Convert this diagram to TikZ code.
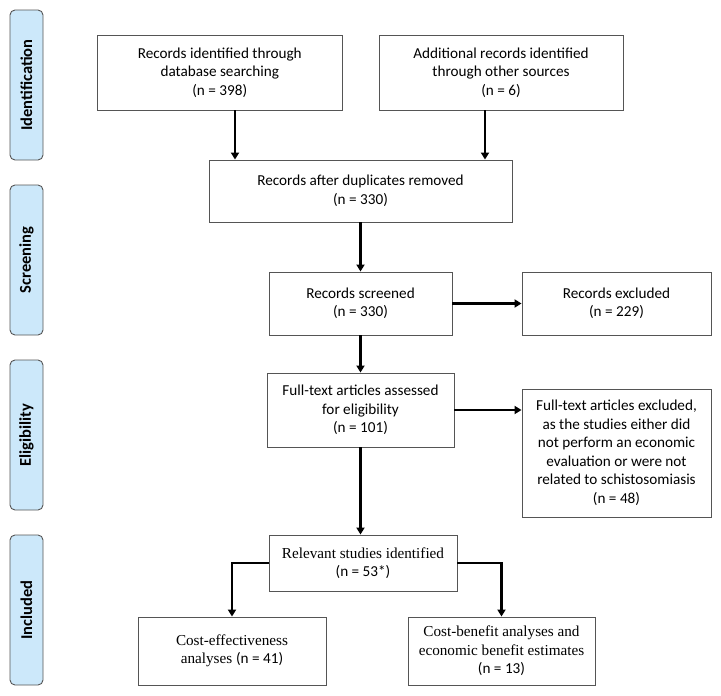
\documentclass[tikz,border=0pt]{standalone}
\usepackage{fontspec}
\setmainfont{Carlito}
\newfontfamily\tnr{Liberation Serif}
\usetikzlibrary{arrows.meta}
\definecolor{phase}{RGB}{204,232,250}
\definecolor{edge}{RGB}{85,85,85}

\begin{document}
\begin{tikzpicture}[x=1pt,y=-1pt,
  box/.style={draw=edge,line width=0.9pt,align=center,inner sep=0pt,font=\fontsize{15.2}{18.5}\selectfont},
  side/.style={draw=edge,line width=0.9pt,fill=phase,rounded corners=5pt,rotate=90,
    minimum width=150pt,minimum height=33pt,inner sep=0pt,font=\fontsize{16.5}{18}\selectfont\bfseries},
  arr/.style={line width=2.8pt,-{Triangle[length=7pt,width=8pt]}}]
\useasboundingbox (0,0) rectangle (721,696);
% phases
\node [side] (pid) at (26.5,85) {Identification};
\node [side] (psc) at (26.5,260) {Screening};
\node [side] (pel) at (26.5,435) {Eligibility};
\node [side] (pin) at (26.5,610) {Included};
% boxes
\node [box,minimum width=244.5pt,minimum height=75pt] (db) at (219.75,72.5) {Records identified through\\database searching\\(n = 398)};
\node [box,minimum width=244pt,minimum height=75pt] (other) at (501,72.5) {Additional records identified\\through other sources\\(n = 6)};
\node [box,minimum width=303pt,minimum height=62pt] (dup) at (360.5,191) {Records after duplicates removed\\(n = 330)};
\node [box,minimum width=183pt,minimum height=63pt] (scr) at (360.5,303.5) {Records screened\\(n = 330)};
\node [box,minimum width=189pt,minimum height=63pt] (exc) at (616.5,303.5) {Records excluded\\(n = 229)};
\node [box,minimum width=187pt,minimum height=74pt] (full) at (360.5,410) {Full-text articles assessed\\for eligibility\\(n = 101)};
\node [box,minimum width=189pt,minimum height=128pt] (fexc) at (616.5,453) {Full-text articles excluded,\\as the studies either did\\not perform an economic\\evaluation or were not\\related to schistosomiasis\\(n = 48)};
\node [box,minimum width=188pt,minimum height=56pt] (rel) at (363,563) {{\tnr Relevant studies identified}\\(n = 53*)};
\node [box,minimum width=188pt,minimum height=68pt] (cea) at (232,651) {\raisebox{4pt}{\parbox{180pt}{\centering{\tnr Cost-effectiveness}\\{\tnr analyses }(n = 41)}}};
\node [box,minimum width=187pt,minimum height=68pt] (cba) at (501.5,651) {{\tnr Cost-benefit analyses and}\\{\tnr economic benefit estimates}\\(n = 13)};
% arrows
\coordinate (c1) at (235,0);
\coordinate (c2) at (485,0);
\draw [arr] (db.south -| c1) -- (dup.north -| c1);
\draw [arr] (other.south -| c2) -- (dup.north -| c2);
\draw [arr] (dup.south) -- (scr.north);
\draw [arr] (scr.east) -- (exc.west);
\draw [arr] (scr.south) -- (full.north);
\draw [arr] (full.east) -- (full.east -| fexc.west);
\draw [arr] (full.south) -- (full.south |- rel.north);
\draw [arr] (rel.west) -| (cea.north);
\draw [arr] (rel.east) -| (cba.north);
\end{tikzpicture}
\end{document}
